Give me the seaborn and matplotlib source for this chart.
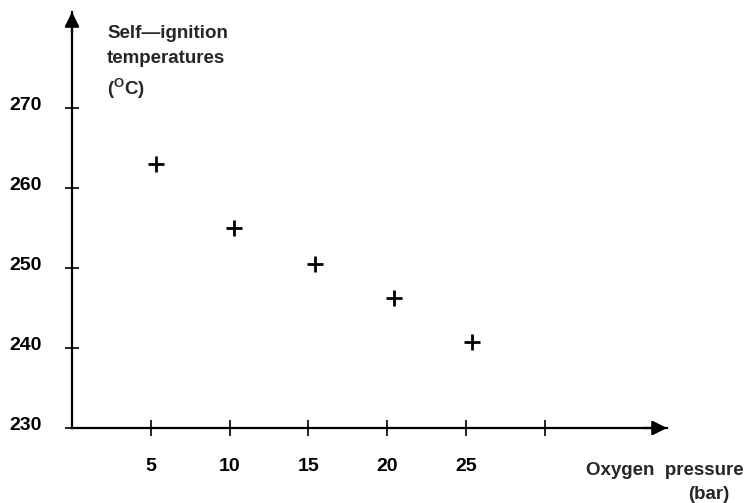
import matplotlib
matplotlib.use("Agg")
import matplotlib.pyplot as plt
import matplotlib.transforms as mtransforms
import seaborn as sns
import pandas as pd

# values
oxygen_pressure = [5.3, 10.3, 15.4, 20.4, 25.4]
ignition_temp = [263.0, 255.0, 250.5, 246.3, 240.7]
x_ticks = [5, 10, 15, 20, 25, 30]
x_tick_labels = ["5", "10", "15", "20", "25", ""]
y_ticks = [230, 240, 250, 260, 270]

df = pd.DataFrame({"pressure": oxygen_pressure, "temp": ignition_temp})

sns.set_style("white")
plt.rcParams["font.family"] = ["Liberation Sans", "DejaVu Sans"]
plt.rcParams["font.weight"] = "bold"
plt.rcParams["mathtext.fontset"] = "custom"
plt.rcParams["mathtext.rm"] = "Liberation Sans:bold"
plt.rcParams["mathtext.bf"] = "Liberation Sans:bold"

fig = plt.figure(figsize=(7.5, 5.03), dpi=100)
ax = fig.add_axes([72 / 750, 75 / 503, 595 / 750, 416 / 503])

sns.scatterplot(data=df, x="pressure", y="temp", marker="+", s=120,
                color="black", linewidth=2.0, ax=ax, legend=False)

ax.set_xlim(0, 37.75)
ax.set_ylim(230, 282)
ax.set_xticks(x_ticks)
ax.set_xticklabels(x_tick_labels)
ax.set_yticks(y_ticks)
ax.set_xlabel("")
ax.set_ylabel("")

for side in ["top", "right"]:
    ax.spines[side].set_visible(False)
for side in ["left", "bottom"]:
    ax.spines[side].set_linewidth(1.6)
    ax.spines[side].set_color("black")

ax.tick_params(axis="x", bottom=True, direction="inout", length=11, width=1.2,
               pad=16, labelsize=14, colors="black")
ax.tick_params(axis="y", left=True, direction="inout", length=9.5, width=1.2,
               pad=17, labelsize=14, colors="black")
shift_up = mtransforms.ScaledTranslation(0, 4 / 100, fig.dpi_scale_trans)
for lab in ax.get_yticklabels():
    lab.set_transform(lab.get_transform() + shift_up)
for lab in ax.get_xticklabels() + ax.get_yticklabels():
    lab.set_fontweight("bold")

# arrow heads on the axes
ax.annotate("", xy=(1.0, 0), xytext=(0.96, 0), xycoords="axes fraction",
            arrowprops=dict(arrowstyle="-|>", color="black", lw=1.6,
                            mutation_scale=22, shrinkA=0, shrinkB=0),
            annotation_clip=False)
ax.annotate("", xy=(0, 1.0), xytext=(0, 0.95), xycoords="axes fraction",
            arrowprops=dict(arrowstyle="-|>", color="black", lw=1.6,
                            mutation_scale=22, shrinkA=0, shrinkB=0),
            annotation_clip=False)

fig.text(107 / 750, 1 - 38 / 503, "Self\u2014ignition", ha="left", va="baseline",
         fontsize=13.5, fontweight="bold")
fig.text(107 / 750, 1 - 63 / 503, "temperatures", ha="left", va="baseline",
         fontsize=13.5, fontweight="bold")
fig.text(107 / 750, 1 - 95 / 503, "(${}^{\\mathrm{O}}$C)", ha="left", va="baseline",
         fontsize=13.5, fontweight="bold")
fig.text(744 / 750, 1 - 475 / 503, "Oxygen  pressure", ha="right", va="baseline",
         fontsize=13.5, fontweight="bold")
fig.text(729 / 750, 1 - 499 / 503, "(bar)", ha="right", va="baseline",
         fontsize=13.5, fontweight="bold")

fig.savefig("out.png", dpi=100)
